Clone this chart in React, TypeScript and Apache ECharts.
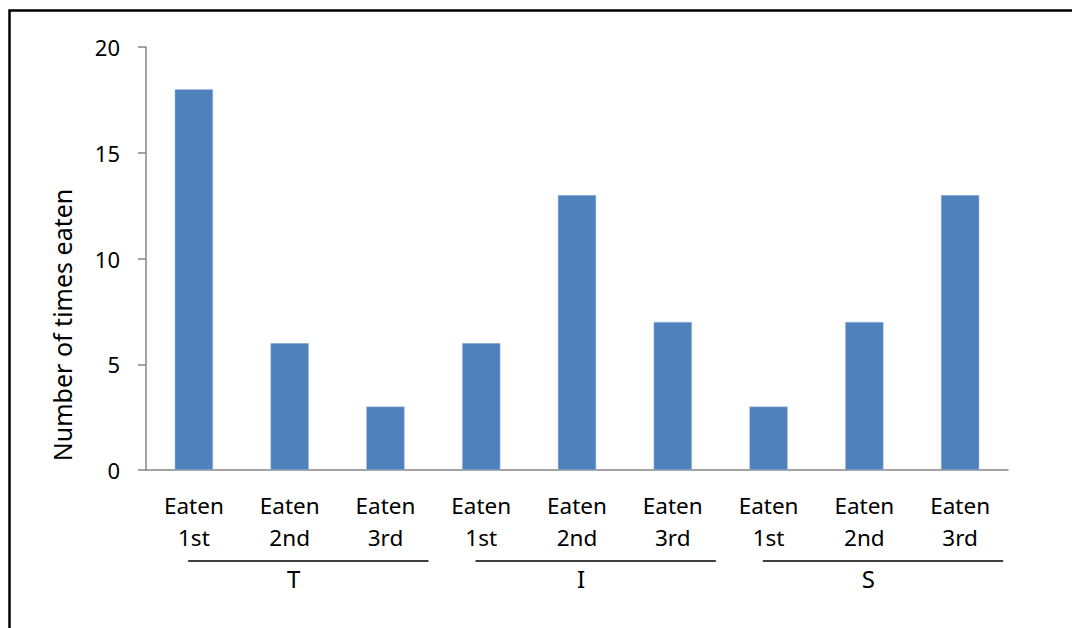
import React, { useEffect, useRef } from "react";
import * as echarts from "echarts";

const groups = ["T", "I", "S"];
const ranks = ["Eaten\n1st", "Eaten\n2nd", "Eaten\n3rd"];
const valuesT = [18, 6, 3];
const valuesI = [6, 13, 7];
const valuesS = [3, 7, 13];
const yTicks = [0, 5, 10, 15, 20];
const yName = "Number of times eaten";

const FONT = "Noto Sans";

export default function App() {
  const ref = useRef<HTMLDivElement>(null);
  useEffect(() => {
    document.body.style.margin = "0";
    const chart = echarts.init(ref.current!, null, { renderer: "svg" });
    const categories: string[] = [];
    groups.forEach(() => ranks.forEach((r) => categories.push(r)));
    const values = [...valuesT, ...valuesI, ...valuesS];
    chart.setOption({
      animation: false,
      backgroundColor: "#ffffff",
      grid: { left: 146, top: 47, right: 64, bottom: 158, containLabel: false },
      xAxis: {
        type: "category",
        data: categories,
        axisLine: { lineStyle: { color: "#868686", width: 1.5 } },
        axisTick: { show: false },
        axisLabel: {
          interval: 0,
          color: "#000",
          fontFamily: FONT,
          fontSize: 22.5,
          lineHeight: 32,
          margin: 19,
        },
      },
      yAxis: {
        type: "value",
        min: yTicks[0],
        max: yTicks[yTicks.length - 1],
        interval: 5,
        splitLine: { show: false },
        axisLine: { show: true, lineStyle: { color: "#868686", width: 1.5 } },
        axisTick: { show: true, length: 8, lineStyle: { color: "#868686", width: 1.5 } },
        axisLabel: { color: "#000", fontFamily: FONT, fontSize: 22, margin: 26 },
      },
      series: [
        {
          type: "bar",
          data: values,
          barWidth: "40%",
          itemStyle: { color: "#4F81BD", borderColor: "#a8c0e0", borderWidth: 0.5 },
        },
      ],
    });
    const px = (i: number) => chart.convertToPixel({ xAxisIndex: 0 }, i) as number;
    const step = px(1) - px(0);
    const graphic: any[] = [
      {
        type: "rect",
        shape: { x: 9.5, y: 10.5, width: 1200, height: 800 },
        style: { fill: "none", stroke: "#000", lineWidth: 2.5 },
        silent: true,
      },
      {
        type: "text",
        x: 62,
        y: 325,
        rotation: Math.PI / 2,
        style: {
          text: yName,
          fill: "#000",
          font: `25px "${FONT}"`,
          align: "center",
          verticalAlign: "middle",
        },
      },
    ];
    groups.forEach((g, gi) => {
      const first = gi * ranks.length;
      const last = first + ranks.length - 1;
      const x1 = px(first) - step * 0.06;
      const x2 = Math.min(px(last) + step * 0.45, px(last) + step / 2);
      graphic.push({
        type: "line",
        shape: { x1, y1: 561, x2, y2: 561 },
        style: { stroke: "#000", lineWidth: 1.5 },
      });
      graphic.push({
        type: "text",
        x: px(first + 1) + 4,
        y: 578,
        style: {
          text: g,
          fill: "#000",
          font: `24px "${FONT}"`,
          align: "center",
          verticalAlign: "middle",
        },
      });
    });
    chart.setOption({ graphic });
    return () => chart.dispose();
  }, []);
  return <div ref={ref} style={{ width: 1072, height: 628 }} />;
}
